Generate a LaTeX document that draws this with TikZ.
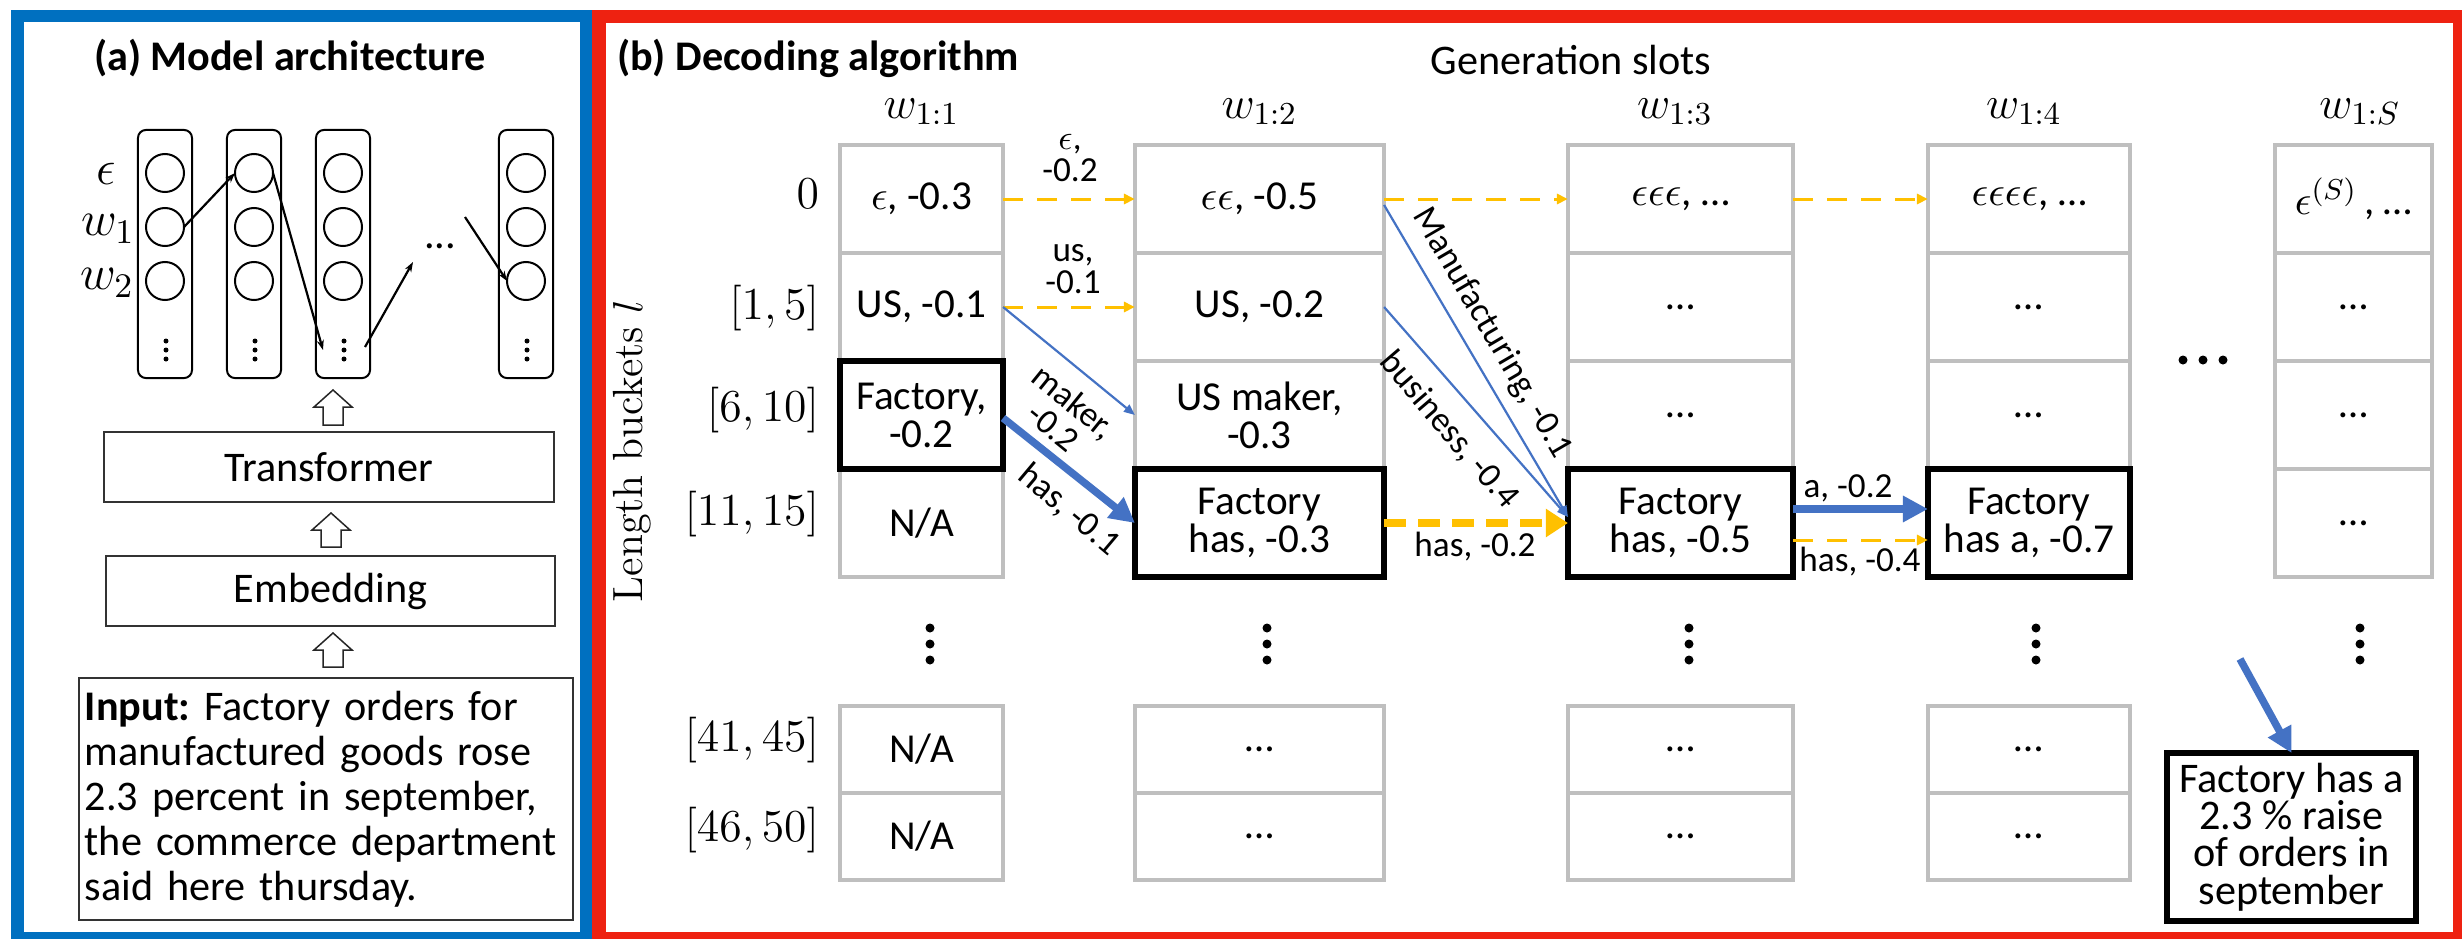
\RequirePackage{fix-cm}
\documentclass[tikz,border=0pt]{standalone}
\usepackage{fontspec}
\newfontfamily\calibri{Carlito}
\usetikzlibrary{arrows.meta}
\definecolor{frameblue}{HTML}{0070C0}
\definecolor{framered}{HTML}{EE2211}
\definecolor{arrblue}{HTML}{4472C4}
\definecolor{gold}{HTML}{FFC000}
\definecolor{cellgray}{HTML}{BFBFBF}
\newcommand\cellfnt{\calibri\fontsize{11.7}{10.8}\selectfont}
\newcommand\edgefnt{\calibri\fontsize{10}{9.2}\selectfont}
\newcommand\bigfnt{\calibri\fontsize{12}{13}\selectfont}
\newcommand\hollowup[3]{\draw[line width=0.015cm, draw=black!85, fill=white] (#1,#2) -- (#1+19,#2+17) -- (#1+10,#2+17) -- (#1+10,#3) -- (#1-10,#3) -- (#1-10,#2+17) -- (#1-19,#2+17) -- cycle;}
\frenchspacing
\begin{document}
\begin{tikzpicture}[x=0.01cm,y=-0.01cm,
  every node/.style={inner sep=0pt, outer sep=0pt},
  cw1/.style={minimum width=1.63cm},
  cw2/.style={minimum width=2.49cm},
  cw3/.style={minimum width=2.25cm},
  cw4/.style={minimum width=2.02cm},
  cw5/.style={minimum width=1.57cm},
  cell/.style={draw=cellgray, line width=0.035cm, minimum height=1.08cm, font=\cellfnt, align=center},
  lowcell/.style={cell, minimum height=0.87cm},
  bcell/.style={draw=black, line width=0.06cm, minimum height=1.08cm, font=\cellfnt, align=center},
  elab/.style={font=\edgefnt, align=center},
  ydash/.style={draw=gold, line width=0.03cm, dash pattern=on 0.2cm off 0.14cm, -{Triangle[length=0.11cm,width=0.1cm]}},
  ydashthick/.style={draw=gold, line width=0.08cm, dash pattern=on 0.22cm off 0.12cm, -{Triangle[length=0.22cm,width=0.27cm]}},
  bthin/.style={draw=arrblue, line width=0.022cm, -{Triangle[length=0.11cm,width=0.09cm]}},
  bthick/.style={draw=arrblue, line width=0.075cm, -{Triangle[length=0.25cm,width=0.25cm]}},
  vcol/.style={draw, rounded corners=0.08cm, line width=0.02cm, minimum width=0.54cm, minimum height=2.48cm},
  unit/.style={circle, draw, line width=0.02cm, minimum size=0.38cm},
  aarrow/.style={draw=black, line width=0.022cm, -{Stealth[length=0.1cm,width=0.07cm]}},
  plainbox/.style={draw=black!80, line width=0.02cm, font=\bigfnt},
  rowlab/.style={anchor=east, font=\fontsize{13}{15}\selectfont},
  colhead/.style={anchor=base, font=\fontsize{13}{15}\selectfont}
]
\useasboundingbox (0,0) rectangle (2462,939);
\fill[white] (0,0) rectangle (2462,939);
% frames
\draw[frameblue, line width=0.125cm] (17.5,16) rectangle (586,938);
\draw[framered, line width=0.13cm] (599,16.5) rectangle (2459.5,938.5);

% ---------------- (a) ----------------
\node[anchor=base, font=\calibri\bfseries\fontsize{12}{14}\selectfont] (ta) at (290,70) {(a) Model architecture};
\foreach \i/\x in {1/165,2/254,3/343,4/526}{
  \node[vcol] (col\i) at (\x,254) {};
  \node[unit] (a\i e) at (\x,173) {};
  \node[unit] (a\i w1) at (\x,227) {};
  \node[unit] (a\i w2) at (\x,281) {};
  \fill (\x+1,341) circle[radius=0.025cm];
  \fill (\x+1,350) circle[radius=0.025cm];
  \fill (\x+1,359) circle[radius=0.025cm];
}
\node[font=\fontsize{14}{15}\selectfont] (le) at (106,174) {$\epsilon$};
\node[font=\fontsize{14}{15}\selectfont] (lw1) at (108,229) {$w_1$};
\node[font=\fontsize{14}{15}\selectfont] (lw2) at (107,283) {$w_2$};
\node[font=\bigfnt] (adots) at (440,246) {...};
\coordinate (p3in) at (323,350);
\coordinate (p3out) at (365,347);
\coordinate (pd1) at (413,262);
\coordinate (pd2) at (465,217);
\draw[aarrow] (a1w1.east) -- (a2e.west);
\draw[aarrow] (a2e.east) -- (p3in);
\draw[aarrow] (p3out) -- (pd1);
\draw[aarrow] (pd2) -- (a4w2.west);

\node[plainbox, minimum width=4.5cm, minimum height=0.7cm] (trans) at (329,467) {Transformer};
\node[plainbox, minimum width=4.49cm, minimum height=0.7cm] (emb) at (330.5,591) {Embedding};
\node[plainbox, minimum width=4.945cm, minimum height=2.42cm, text width=4.82cm, inner xsep=0.0625cm, align=left, font=\calibri\fontsize{12}{12.8}\selectfont] (inp) at (326,799)
 {\textbf{Input:} Factory orders for\\manufactured goods rose\\2.3 percent in september,\\the commerce department\\said here thursday.};
\hollowup{333}{390}{425}
\hollowup{331}{513}{547}
\hollowup{333}{633}{667}

% ---------------- (b) ----------------
\node[anchor=base west, font=\calibri\bfseries\fontsize{12}{14}\selectfont] (tb) at (617,70) {(b) Decoding algorithm};
\node[anchor=base, font=\bigfnt] (gs) at (1571,74) {Generation slots};
\node[rotate=90, font=\fontsize{12}{13}\selectfont] (lb) at (632,451) {Length buckets $l$};

\node[colhead] (h1) at (921.5,118) {$w_{1{:}1}$};
\node[colhead] (h2) at (1259.5,118) {$w_{1{:}2}$};
\node[colhead] (h3) at (1675,118) {$w_{1{:}3}$};
\node[colhead] (h4) at (2024,118) {$w_{1{:}4}$};
\node[colhead] (h5) at (2360,118) {$w_{1{:}S}$};

\node[rowlab] (r0) at (819,194) {$0$};
\node[rowlab] (r1) at (819,308) {$[1,5]$};
\node[rowlab] (r2) at (819,410) {$[6,10]$};
\node[rowlab] (r3) at (819,514) {$[11,15]$};
\node[rowlab] (r4) at (819,740) {$[41,45]$};
\node[rowlab] (r5) at (819,830) {$[46,50]$};

% column 1
\node[cell,cw1] (n10) at (921.5,199) {$\epsilon$, -0.3};
\node[cell,cw1] (n11) at (921.5,307) {US, -0.1};
\node[cell,cw1] (n13) at (921.5,523) {N/A};
\node[lowcell,cw1] (n14) at (921.5,749.5) {N/A};
\node[lowcell,cw1] (n15) at (921.5,836.5) {N/A};
% column 2
\node[cell,cw2] (n20) at (1259.5,199) {$\epsilon\epsilon$, -0.5};
\node[cell,cw2] (n21) at (1259.5,307) {US, -0.2};
\node[cell,cw2] (n22) at (1259.5,415) {US maker,\\-0.3};
\node[lowcell,cw2] (n24) at (1259.5,749.5) {…};
\node[lowcell,cw2] (n25) at (1259.5,836.5) {…};
% column 3
\node[cell,cw3] (n30) at (1680.5,199) {$\epsilon\epsilon\epsilon$, …};
\node[cell,cw3] (n31) at (1680.5,307) {…};
\node[cell,cw3] (n32) at (1680.5,415) {…};
\node[lowcell,cw3] (n34) at (1680.5,749.5) {…};
\node[lowcell,cw3] (n35) at (1680.5,836.5) {…};
% column 4
\node[cell,cw4] (n40) at (2029,199) {$\epsilon\epsilon\epsilon\epsilon$, …};
\node[cell,cw4] (n41) at (2029,307) {…};
\node[cell,cw4] (n42) at (2029,415) {…};
\node[lowcell,cw4] (n44) at (2029,749.5) {…};
\node[lowcell,cw4] (n45) at (2029,836.5) {…};
% column 5
\node[cell,cw5] (n50) at (2353.5,199) {$\epsilon^{(S)}$\,, …};
\node[cell,cw5] (n51) at (2353.5,307) {…};
\node[cell,cw5] (n52) at (2353.5,415) {…};
\node[cell,cw5] (n53) at (2353.5,523) {…};
% bold cells
\node[bcell,cw1] (n12) at (921.5,415) {Factory,\\-0.2};
\node[bcell,cw2] (n23) at (1259.5,523) {Factory\\has, -0.3};
\node[bcell,cw3] (n33) at (1680.5,523) {Factory\\has, -0.5};
\node[bcell,cw4] (n43) at (2029,523) {Factory\\has a, -0.7};
\node[draw=black, line width=0.06cm, minimum width=2.49cm, minimum height=1.68cm, align=center, font=\calibri\fontsize{12}{10.6}\selectfont] (out) at (2291.5,837) {Factory has a\\2.3 \% raise\\of orders in\\september};

% vertical dots
\foreach \x in {930,1267,1689,2036,2360}{
  \fill (\x,628) circle[radius=0.045cm];
  \fill (\x,644) circle[radius=0.045cm];
  \fill (\x,660) circle[radius=0.045cm];
}
\foreach \x in {2183,2203,2223}{ \fill (\x,360) circle[radius=0.045cm]; }

% connectors
\draw[ydash] (n10.east) -- (n20.west);
\draw[ydash] (n11.east) -- (n21.west);
\draw[ydash] (n20.east) -- (n30.west);
\draw[ydash] (n30.east) -- (n40.west);
\draw[bthin] (n11.east) -- (n22.west);
\draw[bthick] ([yshift=-0.03cm]n12.east) -- (n23.west);
\draw[bthin] ([yshift=-0.06cm]n20.east) -- ([yshift=0.06cm]n33.west);
\draw[bthin] (n21.east) -- ([yshift=0.06cm]n33.west);
\draw[ydashthick] (n23.east) -- (n33.west);
\draw[bthick] ([yshift=0.14cm]n33.east) -- ([yshift=0.14cm]n43.west);
\draw[ydash] ([yshift=-0.17cm]n33.east) -- ([yshift=-0.17cm]n43.west);
\coordinate (ostart) at (2240,659);
\draw[bthick] (ostart) -- (out.north);

% edge labels
\node[elab] (l1) at (1070,158) {$\epsilon$,\\-0.2};
\node[elab] (l2) at (1073,269) {us,\\-0.1};
\node[elab, rotate=-39] (l3) at (1064,414) {maker,\\-0.2};
\node[elab, rotate=-40] (l4) at (1069,510) {has, -0.1};
\node[elab, rotate=-59.7] (l5) at (1492,333) {Manufacturing, -0.1};
\node[elab, rotate=-49.4] (l6) at (1449,430) {business, -0.4};
\node[elab] (l7) at (1475,547) {has, -0.2};
\node[elab] (l8) at (1848,488) {a, -0.2};
\node[elab] (l9) at (1860,562) {has, -0.4};
\end{tikzpicture}
\end{document}
